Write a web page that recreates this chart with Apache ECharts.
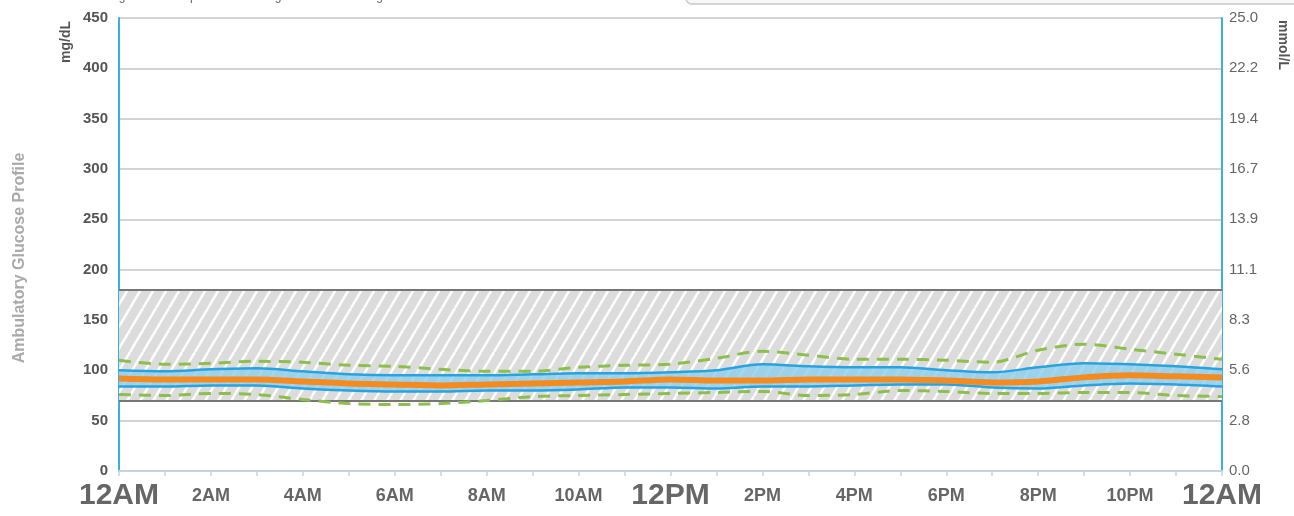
<!DOCTYPE html>
<html>
<head>
<meta charset="utf-8">
<script src="https://cdn.jsdelivr.net/npm/echarts@6/dist/echarts.min.js"></script>
<style>
  html, body { margin: 0; padding: 0; background: #fff; }
  #chart { width: 1294px; height: 516px; }
</style>
</head>
<body>
<div id="chart"></div>
<script>
// hour of day, 12AM ... 12AM, one slot per hour
const hourLabels = ['12AM','','2AM','','4AM','','6AM','','8AM','','10AM','','12PM','','2PM','','4PM','','6PM','','8PM','','10PM','','12AM'];
const bigLabels = ['12AM', '12PM'];

// glucose percentiles, mg/dL
const p95 = [110,106,107,109,108,105,104,101,99,99,103,105,106,112,119,115,111,111,110,108,120,126,121,116,111];
const p75 = [100,99,101,102,99,96,95,95,95,96,97,97,98,100,106,104,103,103,100,98,103,107,106,104,101];
const p50 = [92,91,91,91,89,87,86,85,86,87,88,89,91,90,90,91,91,91,90,88,89,93,95,94,93];
const p25 = [84,84,85,85,82,80,79,79,80,80,81,83,83,82,84,84,85,86,86,83,82,85,87,86,84];
const p5  = [76,75,77,76,71,67,66,67,70,74,75,76,77,78,79,75,76,80,79,77,77,78,78,75,74];

const targetRange = [70, 180];
const mmolLabels = ['0.0','2.8','5.6','8.3','11.1','13.9','16.7','19.4','22.2','25.0'];

const FONT = '"Liberation Sans", Arial, sans-serif';

// hatch pattern for the target range
function hatch() {
  const w = 13, h = 22;
  const c = document.createElement('canvas');
  c.width = w; c.height = h;
  const ctx = c.getContext('2d');
  ctx.fillStyle = '#dcdcdc';
  ctx.fillRect(0, 0, w, h);
  ctx.strokeStyle = 'rgba(255,255,255,0.95)';
  ctx.lineWidth = 2.5;
  [-w, 0, w].forEach(function (o) {
    ctx.beginPath();
    ctx.moveTo(o, h);
    ctx.lineTo(o + w, 0);
    ctx.stroke();
  });
  return c;
}

// band between 25% and 75%, stacked on top of 25%
const iqr = p75.map((v, i) => v - p25[i]);

const chart = echarts.init(document.getElementById('chart'));

chart.setOption({
  animation: false,
  textStyle: { fontFamily: FONT },
  grid: { left: 119, right: 72, top: 18, bottom: 45 },
  xAxis: {
    type: 'category',
    data: hourLabels,
    boundaryGap: false,
    axisLine: { lineStyle: { color: '#c5d4de', width: 2 } },
    axisTick: { length: 5, interval: 0, lineStyle: { color: '#c5d4de', width: 1.5 } },
    splitLine: { show: false },
    axisLabel: {
      interval: 0,
      margin: 8,
      lineHeight: 34,
      formatter: function (lab) {
        if (!lab) return '';
        return bigLabels.indexOf(lab) >= 0 ? '{big|' + lab + '}' : '{small|' + lab + '}';
      },
      rich: {
        big: { fontSize: 30, fontWeight: 'bold', color: '#666', lineHeight: 34, fontFamily: FONT },
        small: { fontSize: 18, fontWeight: 'bold', color: '#666', lineHeight: 34, fontFamily: FONT }
      }
    }
  },
  yAxis: [
    {
      type: 'value',
      min: 0,
      max: 450,
      interval: 50,
      axisLine: { show: true, lineStyle: { color: '#38afe6', width: 2 } },
      axisTick: { show: false },
      splitLine: { lineStyle: { color: '#c4c4c4', width: 1.5 } },
      axisLabel: { margin: 11, fontSize: 15, fontWeight: 'bold', color: '#555', fontFamily: FONT }
    },
    {
      type: 'value',
      position: 'right',
      min: 0,
      max: 450,
      interval: 50,
      axisLine: { show: true, lineStyle: { color: '#38afe6', width: 2 } },
      axisTick: { show: false },
      splitLine: { show: false },
      axisLabel: {
        margin: 7, fontSize: 15, color: '#666', fontFamily: FONT,
        formatter: v => mmolLabels[Math.round(v / 50)]
      }
    }
  ],
  graphic: [
    {
      type: 'text', left: 38, top: -9,
      style: { text: 'distributions of glucose data plotted according to time without regard to date.', fill: '#666', font: '12px ' + FONT }
    },
    {
      type: 'rect', shape: { x: 686, y: -30, width: 640, height: 34, r: 6 },
      style: { fill: '#f8f8f8', stroke: '#c8c8c8', lineWidth: 1.5 }
    },
    {
      type: 'text', x: 66, y: 42, rotation: Math.PI / 2,
      style: { text: 'mg/dL', fill: '#555', font: 'bold 14px ' + FONT, textAlign: 'center', textVerticalAlign: 'middle' }
    },
    {
      type: 'text', x: 1283, y: 45, rotation: -Math.PI / 2,
      style: { text: 'mmol/L', fill: '#555', font: 'bold 14px ' + FONT, textAlign: 'center', textVerticalAlign: 'middle' }
    },
    {
      type: 'text', x: 20, y: 258, rotation: Math.PI / 2,
      style: { text: 'Ambulatory Glucose Profile', fill: '#aaa', font: 'bold 16px ' + FONT, textAlign: 'center', textVerticalAlign: 'middle' }
    }
  ],
  series: [
    {
      name: 'base',
      type: 'line',
      stack: 'iqr',
      data: p25,
      smooth: 0.3,
      symbol: 'none',
      lineStyle: { opacity: 0 },
      z: 2,
      silent: true,
      markArea: {
        silent: true,
        itemStyle: { color: { image: hatch(), repeat: 'repeat' } },
        data: [[{ yAxis: targetRange[0] }, { yAxis: targetRange[1] }]]
      },
      markLine: {
        silent: true,
        symbol: 'none',
        label: { show: false },
        lineStyle: { color: '#777', width: 2, type: 'solid' },
        data: [{ yAxis: targetRange[1] }, { yAxis: targetRange[0] }]
      }
    },
    {
      name: 'iqr',
      type: 'line',
      stack: 'iqr',
      data: iqr,
      smooth: 0.3,
      symbol: 'none',
      lineStyle: { opacity: 0 },
      areaStyle: { color: 'rgba(140,206,236,0.8)', opacity: 1 },
      z: 3,
      silent: true
    },
    {
      name: '25%', type: 'line', data: p25, smooth: 0.3, symbol: 'none', z: 4,
      lineStyle: { color: '#27a3e0', width: 2.5 }
    },
    {
      name: '75%', type: 'line', data: p75, smooth: 0.3, symbol: 'none', z: 4,
      lineStyle: { color: '#27a3e0', width: 2.5 }
    },
    {
      name: '5%', type: 'line', data: p5, smooth: 0.3, symbol: 'none', z: 5,
      lineStyle: { color: '#8dbf4d', width: 3, type: [12, 8] }
    },
    {
      name: '95%', type: 'line', data: p95, smooth: 0.3, symbol: 'none', z: 5,
      lineStyle: { color: '#8dbf4d', width: 3, type: [12, 8] }
    },
    {
      name: '50%', type: 'line', data: p50, smooth: 0.3, symbol: 'none', z: 6,
      lineStyle: { color: '#f58a1f', width: 6 }
    }
  ]
});
</script>
</body>
</html>
